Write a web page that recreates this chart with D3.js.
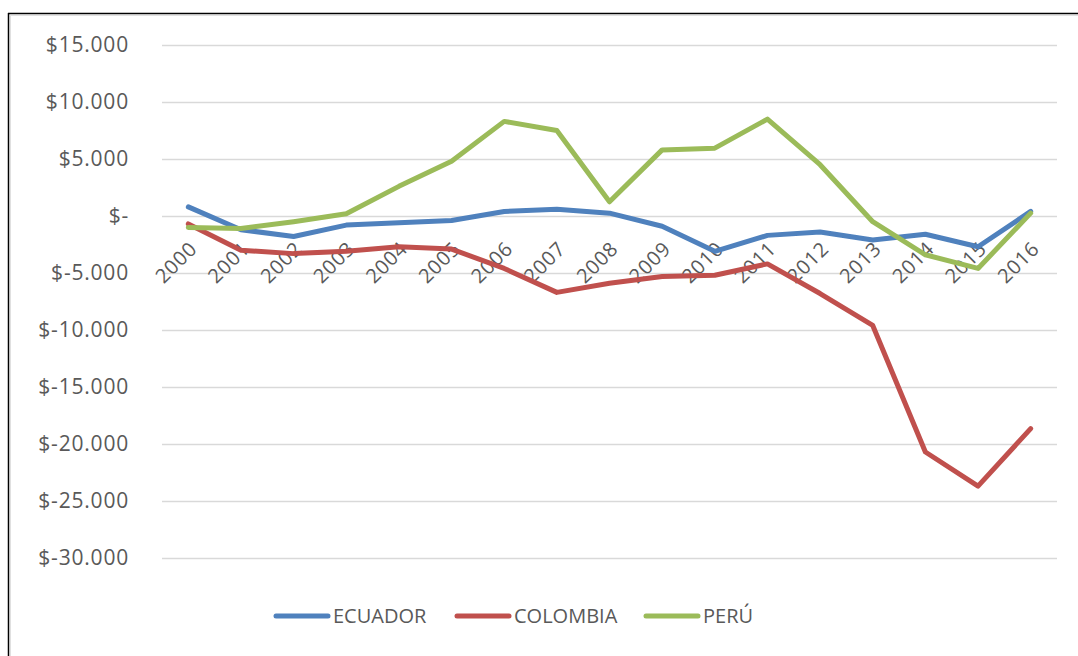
<!DOCTYPE html>
<html>
<head>
<meta charset="utf-8">
<script src="https://cdn.jsdelivr.net/npm/d3@7"></script>
<style>
  body { margin: 0; background: #fff; }
  text { font-family: "Open Sans", sans-serif; fill: #595959; }
</style>
</head>
<body>
<div id="chart"></div>
<script>
const years = ["2000","2001","2002","2003","2004","2005","2006","2007","2008","2009","2010","2011","2012","2013","2014","2015","2016"];
const ecuador = [800, -1200, -1800, -800, -600, -400, 400, 600, 250, -900, -3100, -1700, -1400, -2100, -1600, -2700, 400];
const colombia = [-700, -3000, -3300, -3100, -2700, -2900, -4600, -6700, -5900, -5300, -5200, -4200, -6800, -9600, -20700, -23700, -18650];
const peru = [-1000, -1100, -500, 200, 2600, 4800, 8300, 7500, 1250, 5800, 5950, 8500, 4500, -500, -3400, -4600, 250];
const seriesNames = ["ECUADOR", "COLOMBIA", "PERÚ"];
const yTicks = [15000, 10000, 5000, 0, -5000, -10000, -15000, -20000, -25000, -30000];

const colors = ["#4F81BD", "#C0504D", "#9BBB59"];
const series = [ecuador, colombia, peru];

const width = 1078, height = 656;
const margin = { left: 162, right: 21, top: 45, bottom: 98 };

const svg = d3.select("#chart").append("svg")
  .attr("width", width)
  .attr("height", height);

// frame (only top and left edges show in the picture)
svg.append("line").attr("x1", 8).attr("x2", width).attr("y1", 13.5).attr("y2", 13.5)
  .attr("stroke", "#000").attr("stroke-width", 1.5);
svg.append("line").attr("x1", 8.5).attr("x2", 8.5).attr("y1", 13).attr("y2", height)
  .attr("stroke", "#000").attr("stroke-width", 1.5);
svg.append("line").attr("x1", 10).attr("x2", width).attr("y1", 15.5).attr("y2", 15.5)
  .attr("stroke", "#e0e0e0").attr("stroke-width", 1);
svg.append("line").attr("x1", 10.5).attr("x2", 10.5).attr("y1", 15).attr("y2", height)
  .attr("stroke", "#e0e0e0").attr("stroke-width", 1);

const x = d3.scaleBand()
  .domain(years)
  .range([margin.left, width - margin.right]);

const y = d3.scaleLinear()
  .domain([-30000, 15000])
  .range([height - margin.bottom, margin.top]);

// gridlines
svg.append("g")
  .selectAll("line")
  .data(yTicks)
  .join("line")
  .attr("x1", margin.left)
  .attr("x2", width - margin.right)
  .attr("y1", (d) => Math.round(y(d)) + 0.5)
  .attr("y2", (d) => Math.round(y(d)) + 0.5)
  .attr("stroke", "#d9d9d9")
  .attr("stroke-width", 1.5);

// y labels, "$-5.000" style with plain hyphen and dot thousands
const fmt = (d) => {
  if (d === 0) return "$-";
  const s = d3.format(",")(Math.abs(d)).replace(/,/g, ".");
  return "$" + (d < 0 ? "-" : "") + s;
};
svg.append("g")
  .selectAll("text")
  .data(yTicks)
  .join("text")
  .attr("x", 129)
  .attr("y", (d) => y(d))
  .attr("dy", "0.35em")
  .attr("text-anchor", "end")
  .attr("font-size", 21)
  .attr("letter-spacing", 0.8)
  .text(fmt);

// x labels sit on the zero line, rotated
svg.append("g")
  .selectAll("text")
  .data(years)
  .join("text")
  .attr("transform", (d) => `translate(${x(d) + x.bandwidth() / 2 + 10},${y(0) + 34}) rotate(-45)`)
  .attr("text-anchor", "end")
  .attr("font-size", 20)
  .attr("letter-spacing", 0.8)
  .text((d) => d);

// lines
const line = d3.line()
  .x((d, i) => x(years[i]) + x.bandwidth() / 2)
  .y((d) => y(d));

svg.append("g")
  .selectAll("path")
  .data(series)
  .join("path")
  .attr("d", line)
  .attr("fill", "none")
  .attr("stroke", (d, i) => colors[i])
  .attr("stroke-width", 5)
  .attr("stroke-linejoin", "round")
  .attr("stroke-linecap", "round");

// legend
const legendX = [276, 457, 646];
const legend = svg.append("g")
  .selectAll("g")
  .data(seriesNames)
  .join("g")
  .attr("transform", (d, i) => `translate(${legendX[i]},616)`);
legend.append("line")
  .attr("x1", 0).attr("x2", 52)
  .attr("stroke", (d, i) => colors[i])
  .attr("stroke-width", 5)
  .attr("stroke-linecap", "round");
legend.append("text")
  .attr("x", 57)
  .attr("dy", "0.35em")
  .attr("font-size", 20)
  .text((d) => d);
</script>
</body>
</html>
